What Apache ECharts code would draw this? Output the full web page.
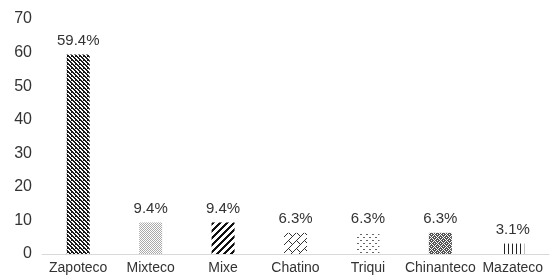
<!DOCTYPE html>
<html>
<head>
<meta charset="utf-8">
<script src="https://cdn.jsdelivr.net/npm/echarts@6/dist/echarts.min.js"></script>
<style>
  html, body { margin: 0; padding: 0; background: #fff; }
  #chart { width: 550px; height: 277px; }
</style>
</head>
<body>
<div id="chart"></div>
<script>
// data
const categories = ['Zapoteco', 'Mixteco', 'Mixe', 'Chatino', 'Triqui', 'Chinanteco', 'Mazateco'];
const values = [59.4, 9.4, 9.4, 6.3, 6.3, 6.3, 3.1];
const yTicks = [0, 10, 20, 30, 40, 50, 60, 70];

// build a small tile from a pixel rule, used as bar fill
function makeTile(size, color, rule) {
  let c = document.createElement('canvas');
  c.width = size[0];
  c.height = size[1];
  let ctx = c.getContext('2d');
  ctx.fillStyle = color;
  for (let y = 0; y < size[1]; y++) {
    for (let x = 0; x < size[0]; x++) {
      if (rule(x, y)) ctx.fillRect(x, y, 1, 1);
    }
  }
  return { image: c, repeat: 'repeat' };
}

let fills = [
  // dense dark downward diagonal
  makeTile([4, 4], '#1a1a1a', (x, y) => (x - y + 8) % 4 < 2 || (x === 3 && y === 0)),
  // light dotted grid
  makeTile([2, 2], '#aaa', (x, y) => (x + y) % 2 === 0),
  // wide upward diagonal
  makeTile([7, 7], '#111', (x, y) => (x + y) % 7 < 3),
  // shingle lattice
  makeTile([8, 8], '#333', (x, y) => (x + y) % 8 === 0 || ((x - y + 16) % 8 === 0 && y < 4)),
  // sparse dots
  makeTile([6, 6], '#666', (x, y) => (x < 2 && y === 0) || (x >= 3 && x < 5 && y === 3)),
  // weave
  makeTile([6, 6], '#555', (x, y) => {
    let blk = (Math.floor(x / 3) + Math.floor(y / 3)) % 2;
    return blk === 0 ? (x + y) % 3 !== 2 : (x - y + 30) % 3 !== 2;
  }),
  // vertical lines
  makeTile([4, 1], '#222', (x, y) => x === 0),
];

let chart = echarts.init(document.getElementById('chart'));
chart.setOption({
  animation: false,
  grid: { left: 42, right: 1, top: 19, bottom: 23 },
  xAxis: {
    type: 'category',
    data: categories,
    axisLine: { lineStyle: { color: '#d9d9d9' } },
    axisTick: { show: false },
    axisLabel: { color: '#333', fontSize: 14, fontFamily: 'Liberation Sans', margin: 7, interval: 0 },
  },
  yAxis: {
    type: 'value',
    min: yTicks[0],
    max: yTicks[yTicks.length - 1],
    interval: 10,
    axisLine: { show: false },
    axisTick: { show: false },
    splitLine: { show: false },
    axisLabel: { color: '#333', fontSize: 16, fontFamily: 'Liberation Sans', margin: 10 },
  },
  series: [{
    type: 'bar',
    barWidth: 23,
    data: values.map((v, i) => ({ value: v, itemStyle: { color: fills[i] } })),
    label: {
      show: true,
      position: 'top',
      distance: 6,
      color: '#333',
      fontSize: 15,
      fontFamily: 'Liberation Sans',
      formatter: (p) => p.value.toFixed(1) + '%',
    },
  }],
});
</script>
</body>
</html>
